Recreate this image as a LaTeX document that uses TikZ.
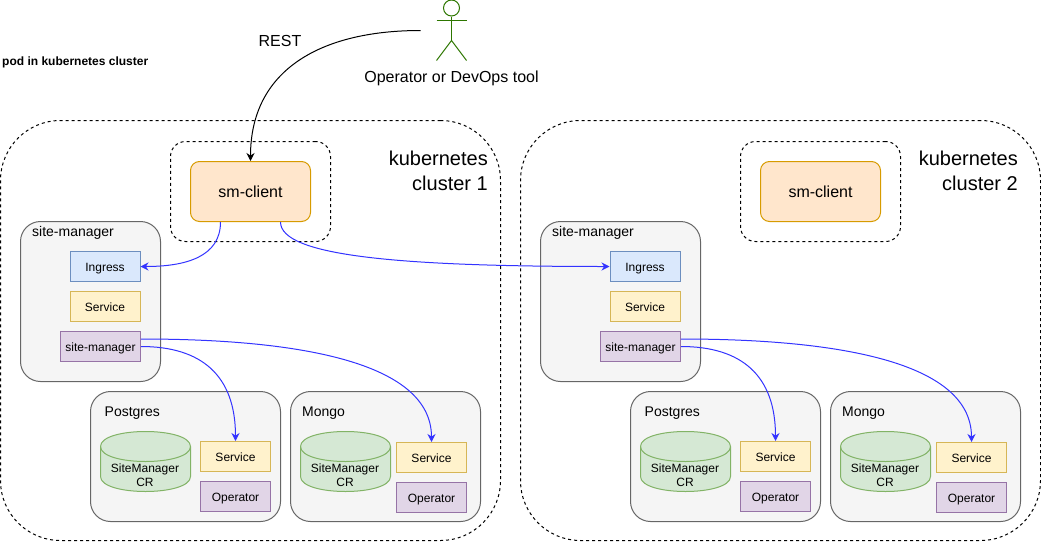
\documentclass[tikz,border=0pt]{standalone}
\usepackage{fontspec}
\setmainfont{Liberation Sans}
\usetikzlibrary{arrows.meta,positioning,calc}

\definecolor{smfill}{HTML}{FFE6CC}
\definecolor{smline}{HTML}{D79B00}
\definecolor{grpfill}{HTML}{F5F5F5}
\definecolor{grpline}{HTML}{666666}
\definecolor{ingfill}{HTML}{DAE8FC}
\definecolor{ingline}{HTML}{6C8EBF}
\definecolor{svcfill}{HTML}{FFF2CC}
\definecolor{svcline}{HTML}{D6B656}
\definecolor{opfill}{HTML}{E1D5E7}
\definecolor{opline}{HTML}{9673A6}
\definecolor{crfill}{HTML}{D5E8D4}
\definecolor{crline}{HTML}{82B366}
\definecolor{flowblue}{HTML}{3333FF}
\definecolor{actorgreen}{HTML}{2D7600}

\tikzset{
    cluster/.style={draw=black, dash pattern=on 3pt off 3pt, rounded corners=60pt, line width=1pt, inner sep=0pt},
    clientframe/.style={draw=black, dash pattern=on 3pt off 3pt, rounded corners=15pt, line width=1pt, minimum width=160pt, minimum height=100pt},
    smbox/.style={draw=smline, fill=smfill, rounded corners=9pt, line width=1pt, minimum width=120pt, minimum height=60pt, text height=12pt, text depth=0pt, font=\fontsize{16}{18}\selectfont},
    group/.style={draw=grpline, fill=grpfill, rounded corners=20pt, line width=1pt, inner sep=0pt},
    item/.style={line width=1pt, minimum width=70pt, minimum height=30pt, inner sep=0pt, text height=10pt, text depth=1pt, font=\fontsize{12}{14}\selectfont},
    ingressbox/.style={item, draw=ingline, fill=ingfill},
    svcbox/.style={item, draw=svcline, fill=svcfill},
    opbox/.style={item, draw=opline, fill=opfill},
    crcan/.style={draw=crline, fill=crfill, line width=1pt},
    crtext/.style={align=center, inner sep=0pt, font=\fontsize{12}{14}\selectfont},
    grplabel/.style={anchor=west, inner sep=0pt, text height=11pt, text depth=3pt, font=\fontsize{14}{16}\selectfont},
    biglabel/.style={inner sep=0pt, text height=12pt, text depth=3pt, font=\fontsize{16}{18}\selectfont},
    flow/.style={draw=flowblue, line width=1pt, -{Stealth[length=8pt,width=8pt]}},
    rest/.style={draw=black, line width=1pt, -{Stealth[length=8pt,width=8pt]}},
    actorline/.style={draw=actorgreen, line width=1pt},
}

% can with its two lines of text, #1 = name, #2 = left edge
\newcommand{\crnode}[2]{
    \draw[crcan] (#2,446.5) .. controls (#2,426.5) and (#2+90,426.5) .. (#2+90,446.5)
        -- (#2+90,476.5) .. controls (#2+90,496.5) and (#2,496.5) .. (#2,476.5) -- cycle;
    \draw[crcan, fill=none] (#2,446.5) .. controls (#2,466.5) and (#2+90,466.5) .. (#2+90,446.5);
    \node[crtext] (#1) at (#2+44.5,475.5) {SiteManager\\CR};
}

\begin{document}
\begin{tikzpicture}[x=1pt,y=-1pt]
    \useasboundingbox (0,0) rectangle (1041,541);

    % clusters
    \foreach \cl/\dx/\outx/\outw/\smx/\grpx/\grpw/\numx/\num in {a/0/250.5/500/250.5/90.5/140/488/1, b/540/780.5/520/820.5/620.5/160/1018/2} {
        \node[cluster, minimum width=\outw pt, minimum height=420pt] (outer\cl) at (\outx,330.5) {};
        \node[anchor=east, align=right, inner sep=0pt, font=\fontsize{20}{25}\selectfont] (title\cl) at (\numx,171) {kubernetes\\cluster \num};

        \node[clientframe] (frame\cl) at (\smx,191.5) {};
        \node[smbox] (smclient\cl) at (\smx,191.5) {sm-client};

        \node[group, minimum width=\grpw pt, minimum height=160pt] (sitegrp\cl) at (\grpx,301.5) {};
        \node[grplabel] (sitelbl\cl) at (\grpx-\grpw/2+11.5,232) {site-manager};
        \node[ingressbox] (ingress\cl) at (\dx+105,266.5) {Ingress};
        \node[svcbox] (svcsite\cl) at (\dx+105,306.5) {Service};
        \node[opbox, minimum width=80pt] (mgr\cl) at (\dx+100.5,346.5) {site-manager};

        \node[group, minimum width=190pt, minimum height=130pt] (pggrp\cl) at (\dx+185.5,456.5) {};
        \node[grplabel] (pglbl\cl) at (\dx+104.5,412) {Postgres};
        \crnode{pgcr\cl}{\dx+100.5}
        \node[svcbox] (pgsvc\cl) at (\dx+235.5,456.5) {Service};
        \node[opbox] (pgop\cl) at (\dx+235.5,496.5) {Operator};

        \node[group, minimum width=190pt, minimum height=130pt] (mongogrp\cl) at (\dx+385.5,456.5) {};
        \node[grplabel] (mongolbl\cl) at (\dx+302,412) {Mongo};
        \crnode{mongocr\cl}{\dx+300.5}
        \node[svcbox] (mongosvc\cl) at (\dx+431.5,457.5) {Service};
        \node[opbox] (mongoop\cl) at (\dx+431.5,497.5) {Operator};

        % operator links
        \draw[flow] (mgr\cl.east) .. controls +(60,0) and +(0,-66) .. (pgsvc\cl.north);
        \draw[flow] ([yshift=7.5pt]mgr\cl.east) .. controls +(150,0) and +(0,-82) .. (mongosvc\cl.north);
    }

    % actor
    \node[circle, actorline, minimum size=16pt, inner sep=0pt] (actorhead) at (451.5,8) {};
    \coordinate (actorhip) at (451.5,40.5);
    \draw[actorline] (actorhead.south) -- (actorhip);
    \draw[actorline] (436.5,20.5) -- (466.5,20.5);
    \draw[actorline] (436.5,60.5) -- (actorhip) -- (466.5,60.5);
    \node[biglabel] (actorlbl) at (451.5,77.5) {Operator or DevOps tool};
    \coordinate (restfrom) at (420.5,30.5);

    \node[biglabel] (restlbl) at (280,41.5) {REST};
    \node[anchor=west, inner sep=0pt, text height=10pt, text depth=3pt, font=\bfseries\fontsize{12}{14}\selectfont] (podlbl) at (2,61.5) {pod in kubernetes cluster};

    % client links
    \draw[rest] (restfrom) .. controls +(-100,0) and +(0,-91) .. (smclienta.north);
    \draw[flow] ([xshift=-30pt]smclienta.south) .. controls +(0,35) and +(45,0) .. (ingressa.east);
    \draw[flow] ([xshift=30pt]smclienta.south) .. controls +(0,34) and +(-210,0) .. (ingressb.west);
\end{tikzpicture}
\end{document}
